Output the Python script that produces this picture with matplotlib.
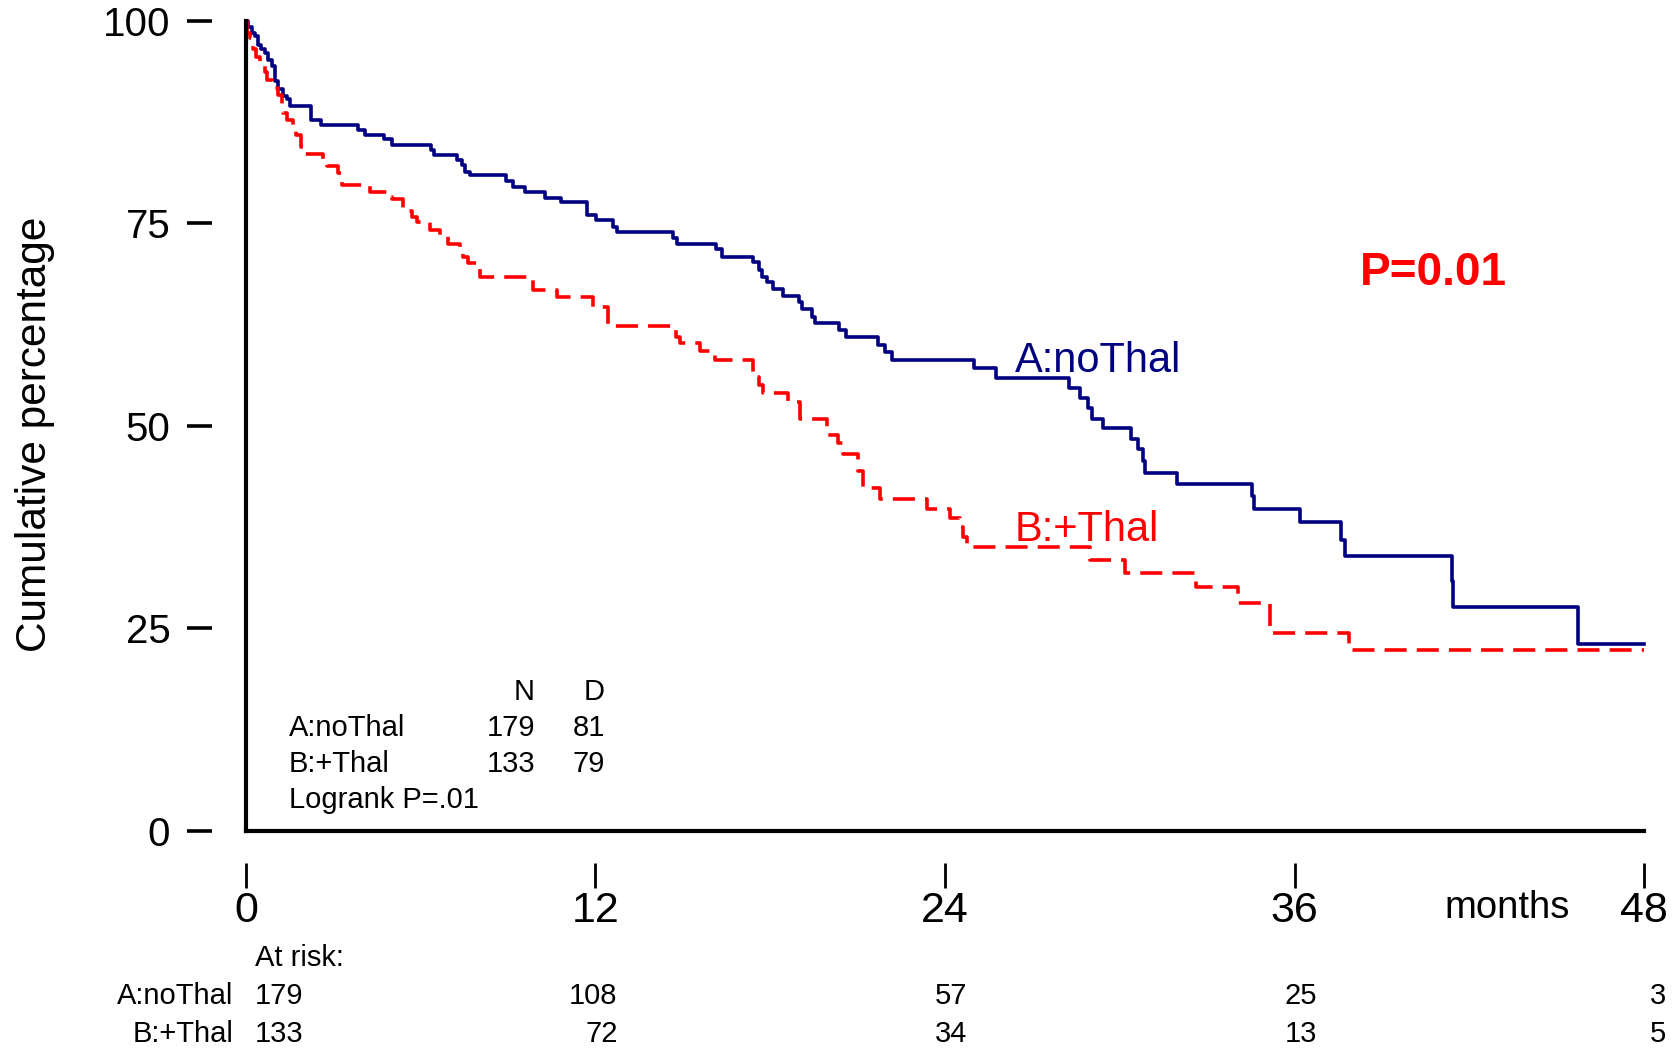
import numpy as np
import matplotlib
matplotlib.use("Agg")
import matplotlib.pyplot as plt

plt.rcParams['font.family'] = ['Liberation Sans', 'DejaVu Sans']

# Kaplan-Meier steps (months, % after the drop)
noThal_t = [0, 0.08, 0.2, 0.3, 0.42, 0.53, 0.65, 0.76, 0.88, 0.99, 1.1, 1.28, 1.4, 1.51,
            2.22, 2.56, 3.85, 4.08, 4.74, 5.02, 6.34, 6.45, 7.23, 7.41, 7.52, 7.69,
            8.93, 9.16, 9.57, 10.26, 10.8, 11.72, 12.01, 12.61, 12.75, 14.65, 14.79,
            16.13, 16.33, 17.4, 17.6, 17.73, 17.88, 18.08, 18.45, 19.0, 19.08, 19.43,
            19.54, 20.37, 20.59, 21.71, 21.94, 22.19, 25.0, 25.75, 28.24, 28.63, 28.9,
            29.03, 29.41, 30.38, 30.64, 30.8, 30.87, 31.96, 34.53, 34.6, 36.2, 37.6,
            37.72, 41.4, 41.45, 45.74, 48.0]
noThal_s = [100, 99.3, 98.5, 98.1, 97.0, 96.5, 96.0, 95.2, 94.4, 92.6, 91.6, 90.8, 90.4, 89.5,
            87.8, 87.2, 86.5, 85.9, 85.4, 84.7, 84.1, 83.5, 82.8, 82.2, 81.4, 81.0,
            80.2, 79.5, 78.9, 78.2, 77.6, 76.0, 75.4, 74.6, 74.0, 73.2, 72.5,
            71.8, 70.9, 70.2, 69.2, 68.4, 67.8, 66.9, 66.0, 65.3, 64.4, 63.5,
            62.7, 61.9, 61.0, 60.0, 59.1, 58.1, 57.1, 55.9, 54.7, 53.5, 52.2,
            50.9, 49.7, 48.4, 47.2, 45.7, 44.2, 42.8, 41.4, 39.7, 38.1, 35.9,
            33.9, 30.8, 27.7, 23.1, 23.1]

thal_t = [0, 0.02, 0.14, 0.23, 0.34, 0.48, 0.65, 0.71, 0.88, 1.11, 1.22, 1.28, 1.4, 1.62,
          1.71, 1.9, 1.98, 2.63, 2.77, 3.17, 3.28, 4.26, 4.89, 5.0, 5.38, 5.69, 5.86,
          6.32, 6.66, 6.95, 7.35, 7.46, 7.63, 8.03, 9.86, 10.67, 11.9, 12.44, 14.78,
          14.9, 15.58, 16.1, 17.42, 17.6, 17.76, 18.62, 19.02, 19.94, 20.34, 20.51,
          21.02, 21.19, 21.77, 23.37, 24.17, 24.52, 24.6, 24.74, 28.98, 30.17, 32.6,
          34.07, 35.16, 37.88, 48.0]
thal_s = [100, 98.5, 97.9, 96.6, 95.6, 94.6, 93.7, 92.7, 91.7, 90.9, 89.8, 88.6, 87.8, 86.9,
          85.9, 84.5, 83.6, 82.8, 82.1, 81.2, 79.75, 78.9, 78.3, 78.0, 76.6, 75.8, 75.2,
          74.2, 73.6, 72.5, 71.9, 70.9, 70.1, 68.4, 66.8, 65.9, 64.7, 62.3, 61.0,
          60.2, 59.2, 58.1, 56.1, 55.0, 54.1, 53.0, 50.9, 48.9, 47.9, 46.6,
          44.4, 42.3, 41.0, 39.8, 38.6, 37.5, 36.3, 35.0, 33.5, 31.9, 30.1,
          28.2, 24.4, 22.4, 22.4]

x_ticks = [0, 12, 24, 36, 48]
y_ticks = [0, 25, 50, 75, 100]

groups = ['A:noThal', 'B:+Thal']
n_patients = [179, 133]
n_deaths = [81, 79]
at_risk = {
    'A:noThal': [179, 108, 57, 25, 3],
    'B:+Thal': [133, 72, 34, 13, 5],
}

navy = '#000080'
red = '#ff0000'

fig = plt.figure(figsize=(16.79, 10.5), dpi=100)
ax = fig.add_axes([0.1465, 0.2086, 0.8327, 0.7714])

ax.step(noThal_t, noThal_s, where='post', color=navy, lw=2.6, clip_on=False)
ax.step(thal_t, thal_s, where='post', color=red, lw=2.6, clip_on=False,
        dashes=(6.1, 2.8))

ax.set_xlim(0, 48)
ax.set_ylim(0, 100)

# R style axes: lines at the data origin, ticks detached
ax.axvline(0, color='black', lw=3, clip_on=False)
ax.axhline(0, color='black', lw=3, clip_on=False)
for side in ['top', 'right', 'left', 'bottom']:
    ax.spines[side].set_visible(False)
ax.spines['left'].set_position(('outward', 24.5))
ax.spines['bottom'].set_position(('outward', 23))

ax.set_yticks(y_ticks)
ax.set_yticklabels([str(v) for v in y_ticks])
ax.set_xticks(x_ticks)
ax.set_xticklabels([str(v) for v in x_ticks])
ax.tick_params(axis='y', direction='out', length=18, width=2.6, pad=12, labelsize=29)
ax.tick_params(axis='x', direction='out', length=18, width=2, pad=2, labelsize=31)

ax.set_ylabel('Cumulative percentage', fontsize=30.5, va='center')
ax.yaxis.set_label_coords(-0.151, 0.49)

ax.text(43.3, -0.095, 'months', transform=ax.get_xaxis_transform(),
        ha='center', va='center', fontsize=27.5)

# curve labels and p value
ax.text(26.4, 56.7, groups[0], color=navy, fontsize=30, ha='left', va='baseline')
ax.text(26.4, 35.8, groups[1], color=red, fontsize=30, ha='left', va='baseline')
ax.text(38.25, 67.4, 'P=0.01', color=red, fontsize=33, fontweight='bold',
        ha='left', va='baseline')

# small summary table inside the plot
ax.text(9.92, 17.2, 'N', fontsize=21, ha='right', va='center')
ax.text(12.33, 17.2, 'D', fontsize=21, ha='right', va='center')
for i, g in enumerate(groups):
    yy = 12.7 - i * 4.4
    ax.text(1.48, yy, g, fontsize=21, ha='left', va='center')
    ax.text(9.92, yy, str(n_patients[i]), fontsize=21, ha='right', va='center')
    ax.text(12.33, yy, str(n_deaths[i]), fontsize=21, ha='right', va='center')
ax.text(1.48, 3.8, 'Logrank P=.01', fontsize=21, ha='left', va='center')

# numbers at risk
trans = ax.get_xaxis_transform()
ax.text(0.3, -0.157, 'At risk:', transform=trans, fontsize=21, ha='left', va='center')
for i, g in enumerate(groups):
    yy = -0.204 - i * 0.047
    ax.text(-0.43, yy, g, transform=trans, fontsize=21, ha='right', va='center')
    for j, t in enumerate(x_ticks):
        if t == 0:
            ax.text(0.3, yy, str(at_risk[g][j]), transform=trans, fontsize=21,
                    ha='left', va='center')
        else:
            ax.text(t + 0.76, yy, str(at_risk[g][j]), transform=trans, fontsize=21,
                    ha='right', va='center')

fig.savefig('out.png', dpi=100, facecolor='white')
